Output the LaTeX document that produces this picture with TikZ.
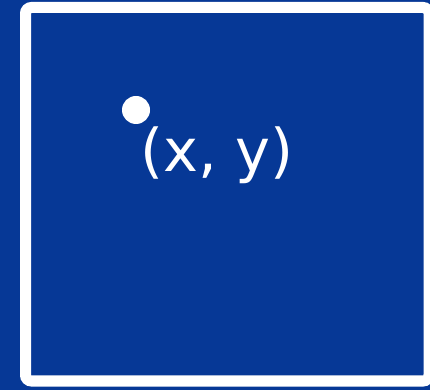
\documentclass[tikz,border=0pt]{standalone}
\usepackage{fontspec}
\setmainfont{DejaVu Sans}
\definecolor{bgblue}{RGB}{6,56,150}
\begin{document}
\begin{tikzpicture}[x=1pt,y=1pt,
  frame/.style={draw=white,line width=11pt,rounded corners=6pt},
  dot/.style={circle,fill=white,inner sep=0pt,minimum size=28pt},
  lbl/.style={text=white,inner sep=0pt,font=\fontsize{59}{66}\selectfont}]
\useasboundingbox (0,0) rectangle (430,390);
\clip (0,0) rectangle (430,390);
\fill[bgblue] (0,0) rectangle (430,390);
\draw[frame] (25.5,382.5) rectangle (429,9);
\node[dot] (p) at (136,280) {};
\node[lbl,anchor=base west] (t) at (140,218) {(x, y)};
\end{tikzpicture}
\end{document}
